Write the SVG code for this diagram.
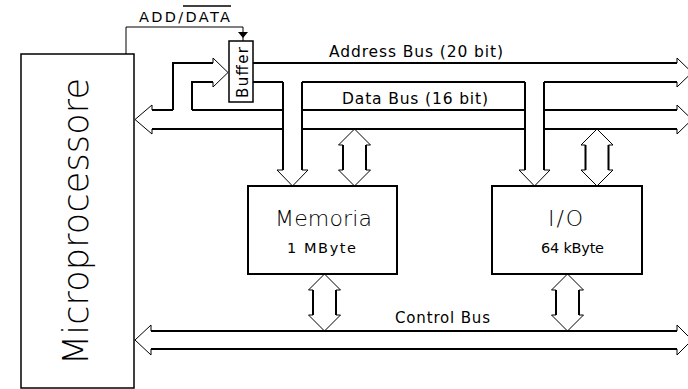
<svg xmlns="http://www.w3.org/2000/svg" width="688" height="389" viewBox="0 0 688 389">
<defs>
<style>
.box{fill:#fff;stroke:#000;stroke-width:2}
.thin{fill:#fff;stroke:#000;stroke-width:1.5}
.bus{fill:none;stroke:#000;stroke-width:2}
.head{fill:none;stroke:#000;stroke-width:1}
.t{font-family:"DejaVu Sans","Liberation Sans",sans-serif;fill:#000}
.lt{font-weight:200}
</style>
<g id="dbl">
<path class="head" d="M-11.5,16 H-16 L0,0 L16,16 H11.5 M-11.5,41 H-16 L0,57 L16,41 H11.5"/>
<path class="bus" d="M-11.5,16 V41 M11.5,16 V41"/>
</g>
</defs>
<rect width="688" height="389" fill="#fff"/>

<g id="microprocessore">
<rect class="thin" x="21" y="54" width="113" height="334"/>
<text class="t lt" font-size="35" transform="translate(88,365) rotate(-90)" textLength="287">Microprocessore</text>
</g>

<g id="buffer">
<rect class="thin" x="229" y="41" width="24" height="61"/>
<text class="t" font-size="15" transform="translate(248,98) rotate(-90)" textLength="51">Buffer</text>
</g>

<g id="memoria">
<rect class="box" x="248" y="186" width="149" height="88"/>
<text class="t lt" font-size="22" x="275" y="226" textLength="97">Memoria</text>
<text class="t" font-size="14.5" x="287" y="253" textLength="69">1 MByte</text>
</g>

<g id="io">
<rect class="box" x="492" y="186" width="150" height="88"/>
<text class="t lt" font-size="22" x="548" y="226" textLength="35">I/O</text>
<text class="t" font-size="14.5" x="541" y="253" textLength="63">64 kByte</text>
</g>

<g id="connectors">
<!-- ADD/DATA control line -->
<path class="head" d="M126,54 V27 H243 V41" stroke-width="1.5"/>
<polygon points="238,32 248,32 243,38" fill="#000"/>
<text class="t" font-size="14.5" x="139" y="22" textLength="91">ADD/DATA</text>
<line x1="183" y1="6" x2="231" y2="6" stroke="#000" stroke-width="1.5"/>

<!-- Address bus -->
<path class="bus" d="M253,63 H677 M253,82 H283 M302,82 H525 M544,82 H677"/>
<path class="head" d="M677,63 V58 L692,72.5 L677,87 V82"/>
<text class="t" font-size="15.5" x="329" y="57" textLength="174">Address Bus (20 bit)</text>

<!-- Address branches to Memoria and I/O -->
<path class="bus" d="M283,82 V170 M302,82 V170 M525,82 V170 M544,82 V170"/>
<path class="head" d="M283,170 H277 L292.5,186 L308,170 H302 M525,170 H519 L534.5,186 L550,170 H544"/>

<!-- Inner path from data bus into buffer -->
<path class="bus" d="M173,110 V63 H213 M192,110 V82 H213"/>
<path class="head" d="M213,63 V58 L228,72.5 L213,87 V82"/>

<!-- Data bus -->
<path class="bus" d="M152,110 H173 M192,110 H283 M302,110 H525 M544,110 H677 M152,129 H283 M302,129 H525 M544,129 H677"/>
<path class="head" d="M152,110 V105 L135,119.5 L152,134 V129 M677,110 V105 L692,119.5 L677,134 V129"/>
<text class="t" font-size="15.5" x="342" y="104" textLength="146">Data Bus (16 bit)</text>

<!-- Data taps -->
<use href="#dbl" transform="translate(354.5,129)"/>
<use href="#dbl" transform="translate(597,129)"/>

<!-- Control taps -->
<use href="#dbl" transform="translate(324.5,274)"/>
<use href="#dbl" transform="translate(567.5,274)"/>

<!-- Control bus -->
<path class="bus" d="M151,331 H677 M151,349 H677"/>
<path class="head" d="M151,331 V325 L135,340 L151,355 V349 M677,331 V325 L692,340 L677,355 V349"/>
<text class="t" font-size="15" x="395" y="323" textLength="95">Control Bus</text>
</g>
</svg>
